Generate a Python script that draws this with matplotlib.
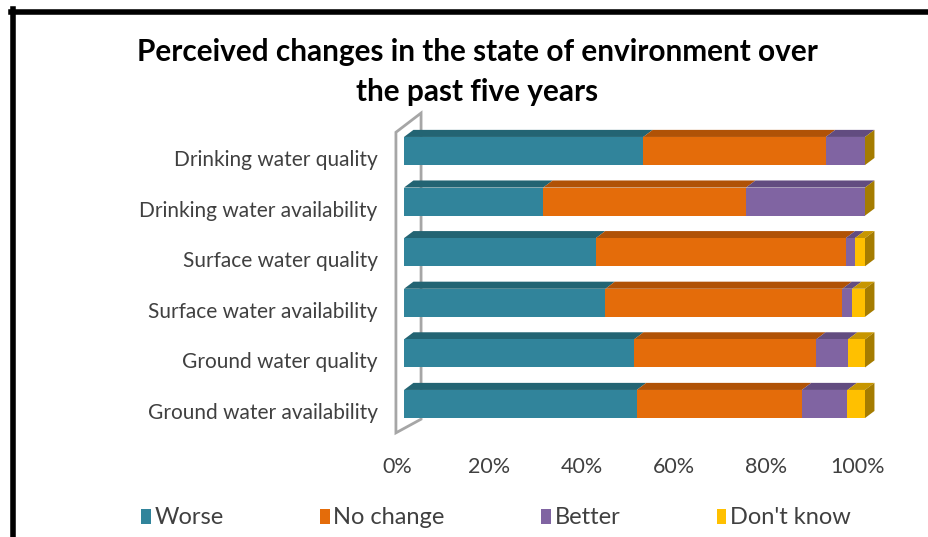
import numpy as np
import matplotlib.pyplot as plt
from matplotlib.patches import Polygon, Patch
from matplotlib.transforms import ScaledTranslation

plt.rcParams['font.family'] = ['Lato', 'DejaVu Sans']

# Share of respondents (%) per answer, top row first
categories = ['Drinking water quality', 'Drinking water availability',
              'Surface water quality', 'Surface water availability',
              'Ground water quality', 'Ground water availability']
worse = [51.9, 30.2, 41.6, 43.7, 49.9, 50.5]
no_change = [39.6, 44.0, 54.2, 51.4, 39.5, 35.8]
better = [8.5, 25.8, 2.0, 2.1, 6.9, 9.9]
dont_know = [0.0, 0.0, 2.2, 2.8, 3.7, 3.8]
series = ['Worse', 'No change', 'Better', "Don't know"]
ticks = [0, 20, 40, 60, 80, 100]

front = ['#31849b', '#e46c0a', '#8064a2', '#ffc000']
top = ['#236473', '#b05206', '#624c80', '#c79600']
side = '#a57c00'

fig = plt.figure(figsize=(9.29, 5.37), dpi=100)
ax = fig.add_axes([404 / 929, 1 - 429.3 / 537, 461 / 929, 303.6 / 537])

y = np.arange(len(categories))
h = 0.555
dx, dy = 2.05, 0.14   # fake depth of the 3D bars
data = [worse, no_change, better, dont_know]

# back wall
ax.add_patch(Polygon([(-1.75, 5.57), (-1.75, -0.37), (3.7, -0.75), (3.7, 5.3)],
                     closed=True, facecolor='white', edgecolor='#a6a6a6',
                     lw=2, clip_on=False, zorder=1))

left = np.zeros(len(categories))
for vals, fc, tc, name in zip(data, front, top, series):
    vals = np.array(vals)
    ax.barh(y, vals, left=left, height=h, color=fc, label=name, zorder=3,
            edgecolor='none')
    for yi, l, v in zip(y, left, vals):
        if v <= 0:
            continue
        y0 = yi - h / 2
        ax.add_patch(Polygon([(l, y0), (l + dx, y0 - dy), (l + v + dx, y0 - dy), (l + v, y0)],
                             closed=True, facecolor=tc, edgecolor='none',
                             clip_on=False, zorder=2))
    left += vals

# right side face of each bar
for yi, tot in zip(y, left):
    y0, y1 = yi - h / 2, yi + h / 2
    ax.add_patch(Polygon([(tot, y0), (tot + dx, y0 - dy), (tot + dx, y1 - dy), (tot, y1)],
                         closed=True, facecolor=side, edgecolor='none',
                         clip_on=False, zorder=2))

ax.set_xlim(0, 100)
ax.set_ylim(len(categories) - 0.5, -0.5)
for s in ax.spines.values():
    s.set_visible(False)
ax.set_yticks(y)
ax.set_yticklabels(categories, fontsize=15, color='#404040')
ax.set_xticks(ticks)
ax.set_xticklabels([f'{t}%' for t in ticks], fontsize=15.5, color='#404040')
ax.tick_params(axis='y', length=0, pad=19)
ax.tick_params(axis='x', length=0, pad=20)
for lab in ax.get_xticklabels():
    lab.set_transform(lab.get_transform() + ScaledTranslation(-0.07, 0, fig.dpi_scale_trans))
for lab in ax.get_yticklabels():
    lab.set_transform(lab.get_transform() + ScaledTranslation(0, -0.07, fig.dpi_scale_trans))

fig.suptitle('Perceived changes in the state of environment over\nthe past five years',
             x=477 / 929, y=1 - 38 / 537, fontsize=21.4, fontweight='bold',
             linespacing=1.5, color='black')

handles = [Patch(facecolor=c) for c in front]
fig.legend(handles, series, loc='center', bbox_to_anchor=(496 / 929, 1 - 518 / 537),
           ncol=4, frameon=False, fontsize=17, handlelength=0.4, handleheight=0.62,
           handletextpad=0.15, columnspacing=4.1, labelcolor='#404040')

# chart frame (cropped on the right and bottom)
fig.add_artist(plt.Line2D([13.5 / 929, 13.5 / 929], [0, 1 - 9 / 537], color='black', lw=4))
fig.add_artist(plt.Line2D([11 / 929, 1], [1 - 11.5 / 537, 1 - 11.5 / 537], color='black', lw=4))

fig.savefig('out.png', dpi=100)
